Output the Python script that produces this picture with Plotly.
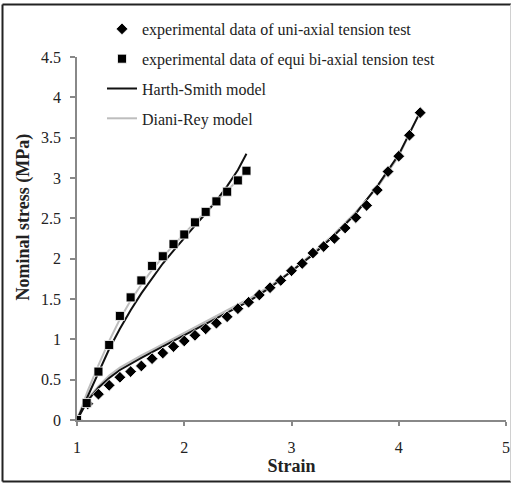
import plotly.graph_objects as go

# Experimental data: uni-axial tension test
uni_strain = [1.0, 1.1, 1.2, 1.3, 1.4, 1.5, 1.6, 1.7, 1.8, 1.9, 2.0, 2.1, 2.2, 2.3, 2.4, 2.5,
              2.6, 2.7, 2.8, 2.9, 3.0, 3.1, 3.2, 3.3, 3.4, 3.5, 3.6, 3.7, 3.8, 3.9, 4.0, 4.1, 4.2]
uni_stress = [0.0, 0.20, 0.32, 0.43, 0.53, 0.60, 0.67, 0.76, 0.83, 0.91, 0.98, 1.05, 1.13, 1.20, 1.28, 1.38,
              1.46, 1.55, 1.64, 1.73, 1.85, 1.94, 2.07, 2.15, 2.25, 2.38, 2.51, 2.66, 2.85, 3.08, 3.27, 3.53, 3.81]

# Experimental data: equi bi-axial tension test
bi_strain = [1.0, 1.09, 1.2, 1.3, 1.4, 1.5, 1.6, 1.7, 1.8, 1.9, 2.0, 2.1, 2.2, 2.3, 2.4, 2.5, 2.58]
bi_stress = [0.0, 0.21, 0.60, 0.93, 1.29, 1.52, 1.73, 1.91, 2.03, 2.18, 2.30, 2.45, 2.58, 2.71, 2.83, 2.97, 3.09]

# Harth-Smith model curves
hs_uni_strain = [1.0, 1.1, 1.2, 1.3, 1.4, 1.5, 1.6, 1.7, 1.8, 1.9, 2.0, 2.2, 2.4, 2.6, 2.8, 3.0,
                 3.2, 3.4, 3.6, 3.8, 4.0, 4.2]
hs_uni_stress = [0.0, 0.24, 0.40, 0.52, 0.62, 0.70, 0.77, 0.84, 0.91, 0.98, 1.05, 1.18, 1.32, 1.47, 1.64, 1.84,
                 2.05, 2.29, 2.56, 2.90, 3.29, 3.82]
hs_bi_strain = [1.0, 1.1, 1.2, 1.3, 1.4, 1.5, 1.6, 1.7, 1.8, 1.9, 2.0, 2.1, 2.2, 2.3, 2.4, 2.5, 2.58]
hs_bi_stress = [0.0, 0.30, 0.58, 0.88, 1.13, 1.36, 1.57, 1.76, 1.94, 2.10, 2.26, 2.41, 2.56, 2.72, 2.90, 3.10, 3.30]

# Diani-Rey model curves
dr_uni_strain = hs_uni_strain
dr_uni_stress = [0.0, 0.26, 0.42, 0.55, 0.65, 0.73, 0.80, 0.87, 0.94, 1.01, 1.08, 1.21, 1.35, 1.50, 1.66, 1.85,
                 2.07, 2.31, 2.58, 2.88, 3.27, 3.82]
dr_bi_strain = [1.0, 1.1, 1.2, 1.3, 1.4, 1.5, 1.6, 1.7, 1.8, 1.9, 2.0, 2.1, 2.2, 2.3, 2.4, 2.5, 2.58]
dr_bi_stress = [0.0, 0.36, 0.68, 0.98, 1.25, 1.48, 1.68, 1.86, 2.02, 2.17, 2.31, 2.45, 2.58, 2.71, 2.84, 2.97, 3.08]

x_ticks = [1, 2, 3, 4, 5]
y_ticks = [0, 0.5, 1, 1.5, 2, 2.5, 3, 3.5, 4, 4.5]

SERIF = "Liberation Serif, Times New Roman, serif"
W, H = 513, 485
ML, MR, MT, MB = 77, 7, 57, 65
PW, PH = W - ML - MR, H - MT - MB

fig = go.Figure()

fig.add_trace(go.Scatter(x=dr_uni_strain, y=dr_uni_stress, mode="lines",
                         line=dict(color="#bdbdbd", width=2), name="Diani-Rey model",
                         legendgroup="dr", legendrank=4))
fig.add_trace(go.Scatter(x=dr_bi_strain, y=dr_bi_stress, mode="lines",
                         line=dict(color="#bdbdbd", width=2), name="Diani-Rey model",
                         legendgroup="dr", showlegend=False))
fig.add_trace(go.Scatter(x=hs_uni_strain, y=hs_uni_stress, mode="lines",
                         line=dict(color="#111111", width=2), name="Harth-Smith model",
                         legendgroup="hs", legendrank=3))
fig.add_trace(go.Scatter(x=hs_bi_strain, y=hs_bi_stress, mode="lines",
                         line=dict(color="#111111", width=2), name="Harth-Smith model",
                         legendgroup="hs", showlegend=False))
fig.add_trace(go.Scatter(x=uni_strain, y=uni_stress, mode="markers",
                         marker=dict(symbol="diamond", size=9, color="#000000",
                                     line=dict(color="white", width=0.8)),
                         name="experimental data of uni-axial tension test",
                         legendgroup="uni", legendrank=1))
fig.add_trace(go.Scatter(x=bi_strain, y=bi_stress, mode="markers",
                         marker=dict(symbol="square", size=9, color="#000000",
                                     line=dict(color="white", width=0.8)),
                         name="experimental data of equi bi-axial tension test",
                         legendgroup="bi", legendrank=2))

def px(v):
    return (v - ML) / PW

def py(v):
    return (H - MB - v) / PH

shapes = [
    dict(type="line", xref="paper", yref="paper", x0=px(2.5), x1=px(511), y0=py(4.5), y1=py(4.5),
         line=dict(color="#222222", width=2)),
    dict(type="line", xref="paper", yref="paper", x0=px(2.5), x1=px(511), y0=py(481.5), y1=py(481.5),
         line=dict(color="#222222", width=2)),
    dict(type="line", xref="paper", yref="paper", x0=px(2.5), x1=px(2.5), y0=py(4.5), y1=py(481.5),
         line=dict(color="#222222", width=2)),
    dict(type="line", xref="paper", yref="paper", x0=px(510.5), x1=px(510.5), y0=py(4.5), y1=py(481.5),
         line=dict(color="#d0d0d0", width=1)),
]

fig.update_layout(
    width=W, height=H,
    margin=dict(l=ML, r=MR, t=MT, b=MB, pad=0, autoexpand=False),
    paper_bgcolor="white", plot_bgcolor="white",
    font=dict(family=SERIF, color="#222222"),
    showlegend=True,
    legend=dict(xref="container", yref="container", x=102 / W, y=1 - 12 / H,
                xanchor="left", yanchor="top", bgcolor="rgba(0,0,0,0)",
                font=dict(family=SERIF, size=16, color="#222222"),
                tracegroupgap=6, traceorder="grouped"),
    shapes=shapes,
    annotations=[dict(text="<b>Nominal stress (MPa)</b>", textangle=-90,
                      xref="paper", yref="paper", x=px(23), y=py(216.5),
                      xanchor="center", yanchor="middle", showarrow=False,
                      font=dict(family=SERIF, size=18, color="#222222"))],
)

fig.update_xaxes(range=[1, 5], tickvals=x_ticks, ticktext=[str(t) for t in x_ticks],
                 showgrid=False, zeroline=False, showline=True, linecolor="#888888", linewidth=1.5,
                 ticks="outside", ticklen=4, tickcolor="#888888", tickwidth=1.5,
                 ticklabelstandoff=8, ticklabeloverflow="allow",
                 tickfont=dict(family=SERIF, size=16, color="#222222"),
                 title=dict(text="<b>Strain</b>", standoff=0,
                            font=dict(family=SERIF, size=18, color="#222222")))
fig.update_yaxes(range=[0, 4.5], tickvals=y_ticks, ticktext=[f"{t:g}" for t in y_ticks],
                 showgrid=False, zeroline=False, showline=True, linecolor="#888888", linewidth=1.5,
                 ticks="outside", ticklen=5, tickcolor="#888888", tickwidth=1.5,
                 ticklabelstandoff=6,
                 tickfont=dict(family=SERIF, size=16, color="#222222"))

fig.write_html("out.html", config={"displayModeBar": False},
               post_script="document.body.style.margin='0';document.body.style.overflow='hidden';")
